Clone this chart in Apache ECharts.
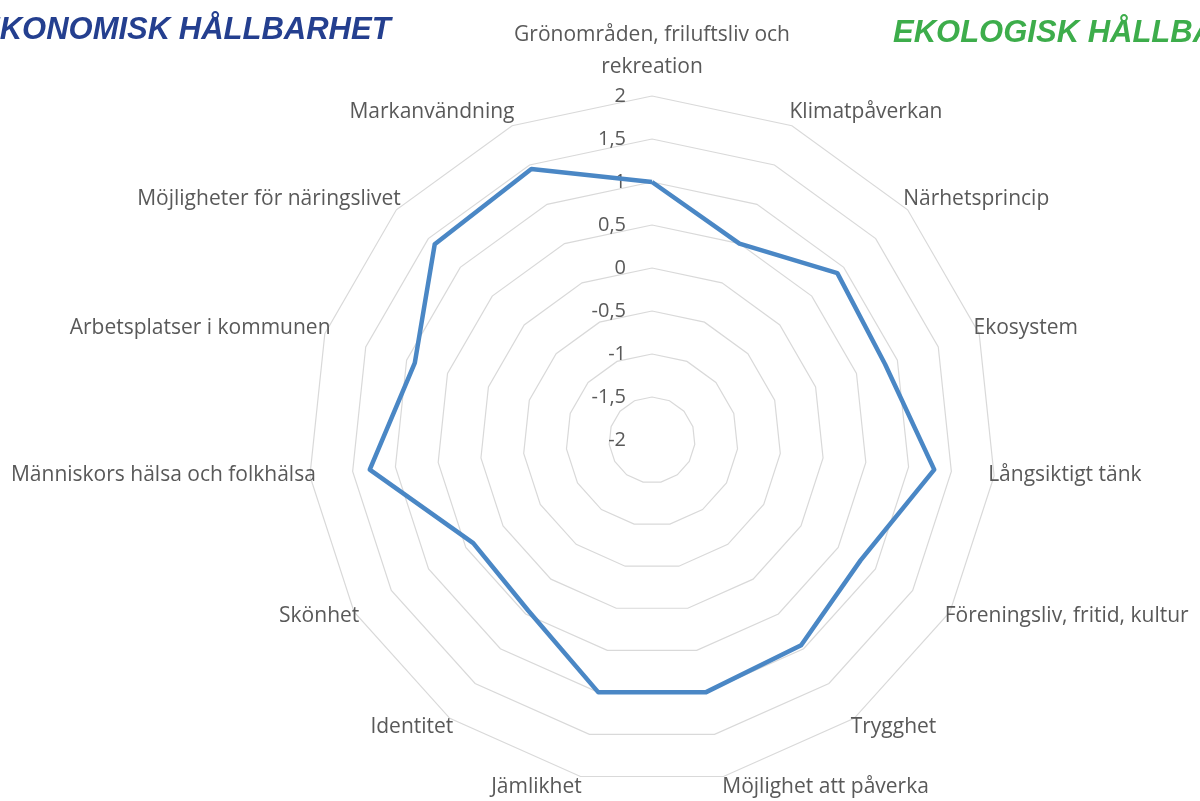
<!DOCTYPE html>
<html>
<head>
<meta charset="utf-8">
<title>Hållbarhet radar</title>
<script src="https://cdn.jsdelivr.net/npm/echarts@6/dist/echarts.min.js"></script>
<style>
  html, body { margin: 0; padding: 0; background: #fff; }
  #main { width: 1200px; height: 801px; }
</style>
</head>
<body>
<div id="main"></div>
<script>
// aspekter, medsols från toppen (som i Excel)
var categories = [
  'Grönområden, friluftsliv och\nrekreation',
  'Klimatpåverkan',
  'Närhetsprincip',
  'Ekosystem',
  'Långsiktigt tänk',
  'Föreningsliv, fritid, kultur',
  'Trygghet',
  'Möjlighet att påverka',
  'Jämlikhet',
  'Identitet',
  'Skönhet',
  'Människors hälsa och folkhälsa',
  'Arbetsplatser i kommunen',
  'Möjligheter för näringslivet',
  'Markanvändning'
];
var values = [1.0, 0.5, 0.9, 0.85, 1.3, 0.8, 0.95, 1.0, 1.0, 0.45, 0.4, 1.3, 0.9, 1.4, 1.45];
var scaleMin = -2;
var scaleMax = 2;
var titles = ['EKONOMISK HÅLLBARHET', 'EKOLOGISK HÅLLBARHET'];

var font = '"Open Sans", sans-serif';

// echarts lägger radarns axlar motsols, så vänd ordningen efter första
function ccw(arr) {
  return [arr[0]].concat(arr.slice(1).reverse());
}

var indicator = ccw(categories).map(function (name, i) {
  var ind = { name: name, min: scaleMin, max: scaleMax };
  if (i === 0) {
    ind.axisLabel = { show: true };
  }
  return ind;
});

// Excel lägger etiketterna lite högre upptill / lägre nertill än echarts,
// så varje etikett får lite luft över eller under sig
var nameRich = {};
categories.forEach(function (name, k) {
  var theta = k * 2 * Math.PI / categories.length;
  var s = -19 * Math.cos(theta) - 2;
  if (k === 0) return;
  nameRich['n' + k] = { padding: s < 0 ? [0, 0, Math.round(-2 * s), 0] : [Math.round(2 * s), 0, 0, 0] };
});
nameRich.top1 = { padding: [0, 0, 0, 0] };
nameRich.top2 = { padding: [11, 0, 24, 0] };

function nameFormatter(name) {
  var k = categories.indexOf(name);
  if (k === 0) {
    var parts = name.split('\n');
    return '{top1|' + parts[0] + '}\n{top2|' + parts[1] + '}';
  }
  return '{n' + k + '|' + name + '}';
}

var myChart = echarts.init(document.getElementById('main'));

var option = {
  backgroundColor: '#fff',
  animation: false,
  title: [
    {
      text: titles[0],
      left: -21,
      top: 15,
      padding: 0,
      textStyle: { color: '#243f8f', fontFamily: '"Liberation Sans", Arial', fontSize: 31, fontWeight: 'bold', fontStyle: 'italic' }
    },
    {
      text: titles[1],
      left: 893,
      top: 18,
      padding: 0,
      textStyle: { color: '#3dad4b', fontFamily: '"Liberation Sans", Arial', fontSize: 31, fontWeight: 'bold', fontStyle: 'italic' }
    }
  ],
  radar: {
    center: [652, 440],
    radius: 344,
    startAngle: 90,
    shape: 'polygon',
    splitNumber: 8,
    indicator: indicator,
    nameGap: -6,
    axisName: {
      color: '#595959',
      fontFamily: font,
      fontSize: 21,
      formatter: nameFormatter,
      rich: nameRich
    },
    splitLine: { lineStyle: { color: '#d9d9d9', width: 1.2 } },
    splitArea: { show: false },
    axisLine: { show: false },
    axisTick: { show: false },
    axisLabel: {
      show: false,
      color: '#595959',
      fontFamily: font,
      fontSize: 20,
      margin: 26,
      formatter: function (v) { return String(v).replace('.', ','); }
    }
  },
  series: [
    {
      type: 'radar',
      symbol: 'none',
      lineStyle: { color: '#4a87c5', width: 4.5 },
      data: [{ value: ccw(values), name: 'Värde' }]
    }
  ]
};

myChart.setOption(option);
window.addEventListener('resize', myChart.resize);
</script>
</body>
</html>
